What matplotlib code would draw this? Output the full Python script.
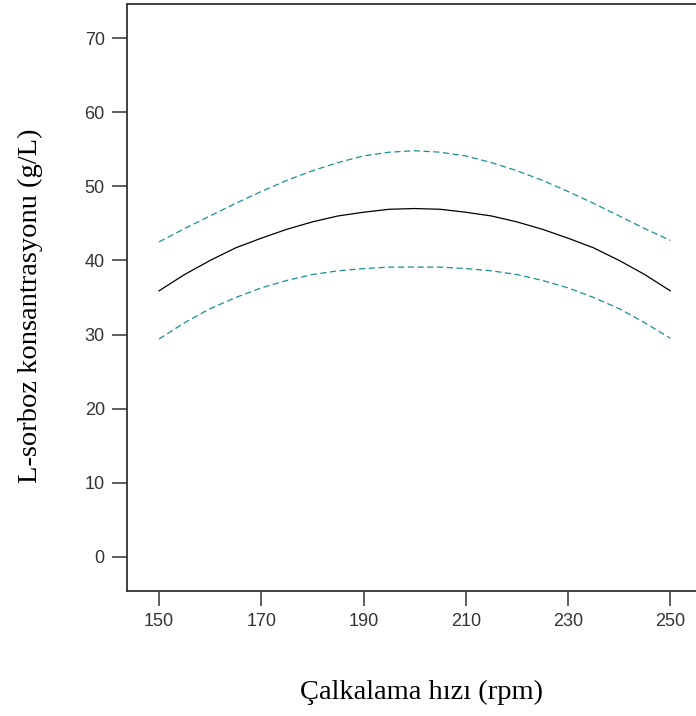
import matplotlib
matplotlib.use("Agg")
import matplotlib.pyplot as plt

# shaking speed (rpm) and predicted L-sorbose concentration (g/L)
speed = [150, 155, 160, 165, 170, 175, 180, 185, 190, 195, 200,
         205, 210, 215, 220, 225, 230, 235, 240, 245, 250]
pred = [35.9, 38.1, 40.0, 41.7, 43.0, 44.2, 45.2, 46.0, 46.5, 46.9, 47.0,
        46.9, 46.5, 46.0, 45.2, 44.2, 43.0, 41.7, 40.0, 38.1, 35.9]
upper = [42.5, 44.3, 46.0, 47.7, 49.3, 50.8, 52.1, 53.2, 54.1, 54.6, 54.8,
         54.6, 54.1, 53.2, 52.1, 50.8, 49.3, 47.7, 46.0, 44.3, 42.7]
lower = [29.4, 31.6, 33.5, 35.0, 36.3, 37.3, 38.1, 38.6, 38.9, 39.1, 39.1,
         39.1, 38.9, 38.6, 38.1, 37.3, 36.3, 35.0, 33.5, 31.6, 29.5]
xticks = [150, 170, 190, 210, 230, 250]
yticks = [0, 10, 20, 30, 40, 50, 60, 70]

fig = plt.figure(figsize=(6.96, 7.16), dpi=100)
ax = fig.add_axes([0.1825, 0.1746, 0.828, 0.8198])

teal = "#1a9090"
ax.plot(speed, upper, ls=(0, (5, 2.8)), c=teal, lw=0.9)
ax.plot(speed, lower, ls=(0, (5, 2.8)), c=teal, lw=0.9)
ax.plot(speed, pred, c="black", lw=0.9)

ax.set_xlim(143.74, 256.46)
ax.set_ylim(-4.59, 74.59)
ax.set_xticks(xticks)
ax.set_yticks(yticks)
ax.spines["right"].set_visible(False)
for s in ("left", "top", "bottom"):
    ax.spines[s].set_linewidth(1.3)
    ax.spines[s].set_color("#333333")
ax.tick_params(direction="out", length=11, width=1.1, color="#333333",
               labelsize=13, labelcolor="#333333", pad=5)
for lab in ax.get_xticklabels() + ax.get_yticklabels():
    lab.set_family("Liberation Sans")

fig.text(421 / 696, 1 - 692 / 716, "Çalkalama hızı (rpm)", ha="center", va="center",
         fontsize=20.5, family="Liberation Serif")
fig.text(30 / 696, 1 - 306 / 716, "L-sorboz konsantrasyonu (g/L)", ha="center", va="center",
         rotation=90, fontsize=20.5, family="Liberation Serif")

plt.savefig("out.png", dpi=100)
